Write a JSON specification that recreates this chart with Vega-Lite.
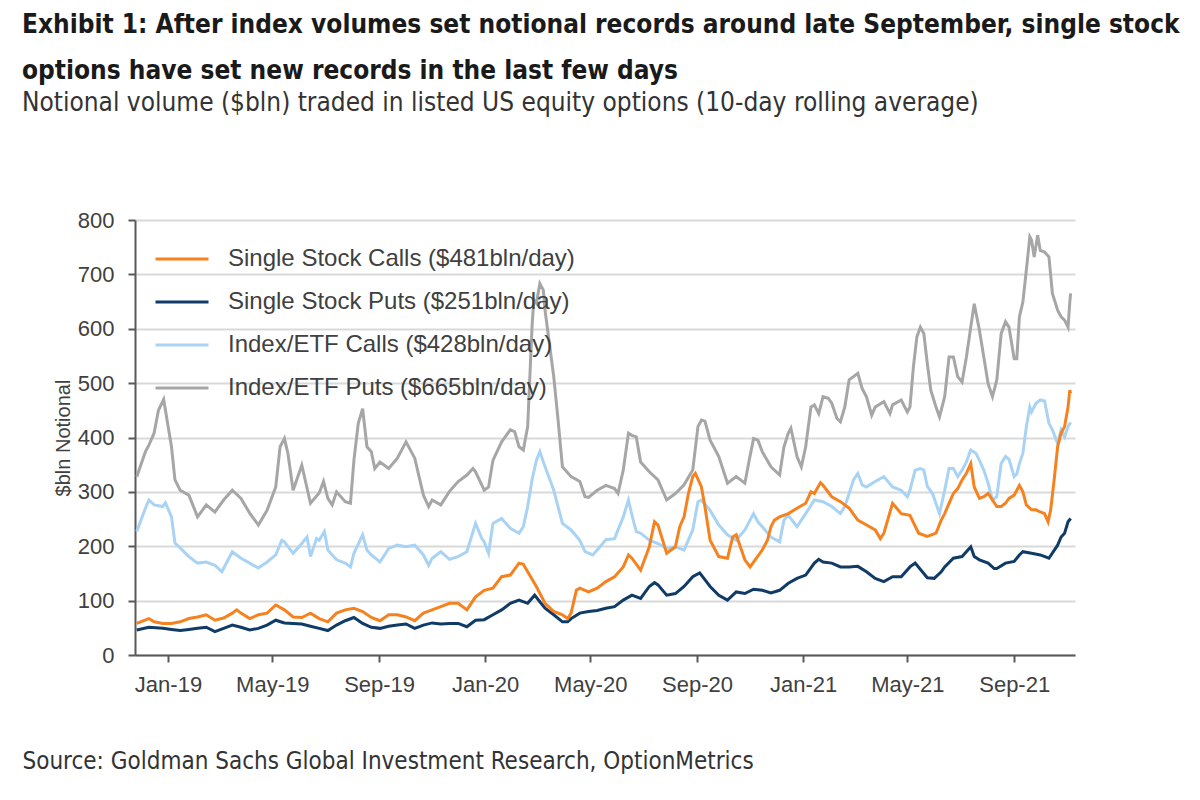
{
  "$schema": "https://vega.github.io/schema/vega-lite/v6.json",
  "width": 940,
  "height": 435,
  "autosize": {"type": "none"},
  "padding": {"left": 135, "top": 220, "right": 125, "bottom": 145},
  "background": "white",
  "config": {"view": {"stroke": null}},
  "title": {
    "text": ["Exhibit 1: After index volumes set notional records around late September, single stock", "options have set new records in the last few days"],
    "subtitle": "Notional volume ($bln) traded in listed US equity options (10-day rolling average)",
    "anchor": "start",
    "frame": "group",
    "dx": -113,
    "offset": 93,
    "font": "DejaVu Sans Condensed, Roboto Condensed, Liberation Sans Narrow, Roboto",
    "fontSize": 26,
    "fontWeight": "bold",
    "color": "#1a1a1a",
    "lineHeight": 46,
    "subtitleFont": "DejaVu Sans Condensed, Roboto Condensed, Liberation Sans Narrow, Roboto",
    "subtitleFontSize": 26,
    "subtitleColor": "#333333",
    "subtitlePadding": 6
  },
  "data": {"values": [
    {"d":"2018-11-26","k":"IEP","v":328},{"d":"2018-12-06","k":"IEP","v":374},{"d":"2018-12-10","k":"IEP","v":386},{"d":"2018-12-16","k":"IEP","v":408},{"d":"2018-12-21","k":"IEP","v":450},{"d":"2018-12-27","k":"IEP","v":470},{"d":"2019-01-05","k":"IEP","v":383},{"d":"2019-01-09","k":"IEP","v":322},{"d":"2019-01-15","k":"IEP","v":303},{"d":"2019-01-25","k":"IEP","v":294},{"d":"2019-02-04","k":"IEP","v":254},{"d":"2019-02-14","k":"IEP","v":276},{"d":"2019-02-24","k":"IEP","v":263},{"d":"2019-03-06","k":"IEP","v":285},{"d":"2019-03-16","k":"IEP","v":303},{"d":"2019-03-26","k":"IEP","v":288},{"d":"2019-04-05","k":"IEP","v":261},{"d":"2019-04-15","k":"IEP","v":239},{"d":"2019-04-25","k":"IEP","v":266},{"d":"2019-05-05","k":"IEP","v":309},{"d":"2019-05-10","k":"IEP","v":383},{"d":"2019-05-15","k":"IEP","v":398},{"d":"2019-05-19","k":"IEP","v":371},{"d":"2019-05-25","k":"IEP","v":303},{"d":"2019-06-04","k":"IEP","v":349},{"d":"2019-06-14","k":"IEP","v":279},{"d":"2019-06-24","k":"IEP","v":298},{"d":"2019-06-29","k":"IEP","v":319},{"d":"2019-07-04","k":"IEP","v":288},{"d":"2019-07-09","k":"IEP","v":276},{"d":"2019-07-14","k":"IEP","v":300},{"d":"2019-07-24","k":"IEP","v":282},{"d":"2019-07-30","k":"IEP","v":279},{"d":"2019-08-03","k":"IEP","v":358},{"d":"2019-08-08","k":"IEP","v":426},{"d":"2019-08-13","k":"IEP","v":453},{"d":"2019-08-18","k":"IEP","v":383},{"d":"2019-08-23","k":"IEP","v":374},{"d":"2019-08-27","k":"IEP","v":343},{"d":"2019-09-02","k":"IEP","v":355},{"d":"2019-09-12","k":"IEP","v":343},{"d":"2019-09-22","k":"IEP","v":362},{"d":"2019-10-02","k":"IEP","v":392},{"d":"2019-10-12","k":"IEP","v":362},{"d":"2019-10-22","k":"IEP","v":294},{"d":"2019-10-28","k":"IEP","v":273},{"d":"2019-11-01","k":"IEP","v":285},{"d":"2019-11-11","k":"IEP","v":276},{"d":"2019-11-21","k":"IEP","v":301},{"d":"2019-12-01","k":"IEP","v":319},{"d":"2019-12-11","k":"IEP","v":331},{"d":"2019-12-18","k":"IEP","v":343},{"d":"2019-12-21","k":"IEP","v":337},{"d":"2019-12-31","k":"IEP","v":303},{"d":"2020-01-05","k":"IEP","v":309},{"d":"2020-01-10","k":"IEP","v":358},{"d":"2020-01-20","k":"IEP","v":392},{"d":"2020-01-30","k":"IEP","v":414},{"d":"2020-02-04","k":"IEP","v":411},{"d":"2020-02-09","k":"IEP","v":383},{"d":"2020-02-14","k":"IEP","v":377},{"d":"2020-02-19","k":"IEP","v":420},{"d":"2020-02-24","k":"IEP","v":603},{"d":"2020-02-26","k":"IEP","v":653},{"d":"2020-02-29","k":"IEP","v":647},{"d":"2020-03-04","k":"IEP","v":683},{"d":"2020-03-08","k":"IEP","v":671},{"d":"2020-03-10","k":"IEP","v":634},{"d":"2020-03-17","k":"IEP","v":548},{"d":"2020-03-20","k":"IEP","v":512},{"d":"2020-03-25","k":"IEP","v":432},{"d":"2020-03-30","k":"IEP","v":346},{"d":"2020-04-09","k":"IEP","v":328},{"d":"2020-04-19","k":"IEP","v":319},{"d":"2020-04-25","k":"IEP","v":291},{"d":"2020-04-29","k":"IEP","v":290},{"d":"2020-05-09","k":"IEP","v":303},{"d":"2020-05-19","k":"IEP","v":312},{"d":"2020-05-29","k":"IEP","v":306},{"d":"2020-06-02","k":"IEP","v":297},{"d":"2020-06-08","k":"IEP","v":340},{"d":"2020-06-14","k":"IEP","v":408},{"d":"2020-06-18","k":"IEP","v":404},{"d":"2020-06-23","k":"IEP","v":401},{"d":"2020-06-28","k":"IEP","v":355},{"d":"2020-07-08","k":"IEP","v":337},{"d":"2020-07-18","k":"IEP","v":322},{"d":"2020-07-28","k":"IEP","v":285},{"d":"2020-08-07","k":"IEP","v":297},{"d":"2020-08-17","k":"IEP","v":313},{"d":"2020-08-27","k":"IEP","v":340},{"d":"2020-09-02","k":"IEP","v":420},{"d":"2020-09-06","k":"IEP","v":432},{"d":"2020-09-10","k":"IEP","v":430},{"d":"2020-09-16","k":"IEP","v":395},{"d":"2020-09-26","k":"IEP","v":365},{"d":"2020-10-06","k":"IEP","v":316},{"d":"2020-10-16","k":"IEP","v":328},{"d":"2020-10-26","k":"IEP","v":316},{"d":"2020-10-31","k":"IEP","v":358},{"d":"2020-11-05","k":"IEP","v":398},{"d":"2020-11-10","k":"IEP","v":395},{"d":"2020-11-15","k":"IEP","v":374},{"d":"2020-11-25","k":"IEP","v":346},{"d":"2020-12-05","k":"IEP","v":331},{"d":"2020-12-10","k":"IEP","v":383},{"d":"2020-12-15","k":"IEP","v":408},{"d":"2020-12-18","k":"IEP","v":417},{"d":"2020-12-25","k":"IEP","v":365},{"d":"2020-12-30","k":"IEP","v":346},{"d":"2021-01-04","k":"IEP","v":383},{"d":"2021-01-10","k":"IEP","v":456},{"d":"2021-01-14","k":"IEP","v":460},{"d":"2021-01-19","k":"IEP","v":444},{"d":"2021-01-24","k":"IEP","v":475},{"d":"2021-01-30","k":"IEP","v":472},{"d":"2021-02-03","k":"IEP","v":463},{"d":"2021-02-09","k":"IEP","v":435},{"d":"2021-02-13","k":"IEP","v":429},{"d":"2021-02-18","k":"IEP","v":456},{"d":"2021-02-23","k":"IEP","v":506},{"d":"2021-02-28","k":"IEP","v":512},{"d":"2021-03-05","k":"IEP","v":518},{"d":"2021-03-10","k":"IEP","v":490},{"d":"2021-03-15","k":"IEP","v":475},{"d":"2021-03-21","k":"IEP","v":441},{"d":"2021-03-25","k":"IEP","v":456},{"d":"2021-04-04","k":"IEP","v":466},{"d":"2021-04-11","k":"IEP","v":444},{"d":"2021-04-14","k":"IEP","v":460},{"d":"2021-04-24","k":"IEP","v":469},{"d":"2021-05-01","k":"IEP","v":447},{"d":"2021-05-04","k":"IEP","v":456},{"d":"2021-05-08","k":"IEP","v":530},{"d":"2021-05-12","k":"IEP","v":585},{"d":"2021-05-16","k":"IEP","v":603},{"d":"2021-05-20","k":"IEP","v":591},{"d":"2021-05-24","k":"IEP","v":536},{"d":"2021-05-28","k":"IEP","v":487},{"d":"2021-06-03","k":"IEP","v":456},{"d":"2021-06-07","k":"IEP","v":438},{"d":"2021-06-13","k":"IEP","v":475},{"d":"2021-06-18","k":"IEP","v":548},{"d":"2021-06-23","k":"IEP","v":548},{"d":"2021-06-28","k":"IEP","v":512},{"d":"2021-07-03","k":"IEP","v":502},{"d":"2021-07-08","k":"IEP","v":548},{"d":"2021-07-13","k":"IEP","v":603},{"d":"2021-07-17","k":"IEP","v":646},{"d":"2021-07-23","k":"IEP","v":597},{"d":"2021-07-28","k":"IEP","v":548},{"d":"2021-08-02","k":"IEP","v":499},{"d":"2021-08-07","k":"IEP","v":475},{"d":"2021-08-12","k":"IEP","v":506},{"d":"2021-08-17","k":"IEP","v":591},{"d":"2021-08-22","k":"IEP","v":613},{"d":"2021-08-26","k":"IEP","v":603},{"d":"2021-09-01","k":"IEP","v":545},{"d":"2021-09-04","k":"IEP","v":545},{"d":"2021-09-07","k":"IEP","v":622},{"d":"2021-09-11","k":"IEP","v":649},{"d":"2021-09-15","k":"IEP","v":708},{"d":"2021-09-19","k":"IEP","v":769},{"d":"2021-09-21","k":"IEP","v":763},{"d":"2021-09-24","k":"IEP","v":732},{"d":"2021-09-28","k":"IEP","v":772},{"d":"2021-10-01","k":"IEP","v":744},{"d":"2021-10-06","k":"IEP","v":741},{"d":"2021-10-11","k":"IEP","v":732},{"d":"2021-10-15","k":"IEP","v":665},{"d":"2021-10-21","k":"IEP","v":634},{"d":"2021-10-25","k":"IEP","v":622},{"d":"2021-10-29","k":"IEP","v":616},{"d":"2021-11-02","k":"IEP","v":603},{"d":"2021-11-04","k":"IEP","v":649},{"d":"2021-11-05","k":"IEP","v":665},

    {"d":"2018-11-26","k":"IEC","v":227},{"d":"2018-12-06","k":"IEC","v":270},{"d":"2018-12-10","k":"IEC","v":285},{"d":"2018-12-16","k":"IEC","v":276},{"d":"2018-12-26","k":"IEC","v":273},{"d":"2018-12-29","k":"IEC","v":280},{"d":"2019-01-05","k":"IEC","v":254},{"d":"2019-01-09","k":"IEC","v":206},{"d":"2019-01-15","k":"IEC","v":197},{"d":"2019-01-25","k":"IEC","v":181},{"d":"2019-02-04","k":"IEC","v":169},{"d":"2019-02-14","k":"IEC","v":171},{"d":"2019-02-24","k":"IEC","v":165},{"d":"2019-03-04","k":"IEC","v":153},{"d":"2019-03-16","k":"IEC","v":190},{"d":"2019-03-26","k":"IEC","v":178},{"d":"2019-04-05","k":"IEC","v":169},{"d":"2019-04-15","k":"IEC","v":160},{"d":"2019-04-25","k":"IEC","v":171},{"d":"2019-05-05","k":"IEC","v":184},{"d":"2019-05-12","k":"IEC","v":211},{"d":"2019-05-15","k":"IEC","v":208},{"d":"2019-05-25","k":"IEC","v":187},{"d":"2019-06-04","k":"IEC","v":205},{"d":"2019-06-10","k":"IEC","v":217},{"d":"2019-06-14","k":"IEC","v":181},{"d":"2019-06-21","k":"IEC","v":214},{"d":"2019-06-24","k":"IEC","v":211},{"d":"2019-06-30","k":"IEC","v":227},{"d":"2019-07-04","k":"IEC","v":193},{"d":"2019-07-14","k":"IEC","v":175},{"d":"2019-07-24","k":"IEC","v":169},{"d":"2019-07-30","k":"IEC","v":162},{"d":"2019-08-03","k":"IEC","v":187},{"d":"2019-08-13","k":"IEC","v":221},{"d":"2019-08-18","k":"IEC","v":193},{"d":"2019-08-23","k":"IEC","v":184},{"d":"2019-09-02","k":"IEC","v":171},{"d":"2019-09-12","k":"IEC","v":196},{"d":"2019-09-22","k":"IEC","v":202},{"d":"2019-10-02","k":"IEC","v":199},{"d":"2019-10-12","k":"IEC","v":202},{"d":"2019-10-22","k":"IEC","v":184},{"d":"2019-10-28","k":"IEC","v":165},{"d":"2019-11-01","k":"IEC","v":178},{"d":"2019-11-11","k":"IEC","v":190},{"d":"2019-11-21","k":"IEC","v":176},{"d":"2019-12-01","k":"IEC","v":181},{"d":"2019-12-11","k":"IEC","v":190},{"d":"2019-12-21","k":"IEC","v":242},{"d":"2019-12-28","k":"IEC","v":215},{"d":"2019-12-31","k":"IEC","v":208},{"d":"2020-01-05","k":"IEC","v":187},{"d":"2020-01-10","k":"IEC","v":242},{"d":"2020-01-20","k":"IEC","v":251},{"d":"2020-01-30","k":"IEC","v":233},{"d":"2020-02-09","k":"IEC","v":224},{"d":"2020-02-14","k":"IEC","v":236},{"d":"2020-02-19","k":"IEC","v":273},{"d":"2020-02-24","k":"IEC","v":322},{"d":"2020-02-29","k":"IEC","v":358},{"d":"2020-03-04","k":"IEC","v":374},{"d":"2020-03-10","k":"IEC","v":346},{"d":"2020-03-20","k":"IEC","v":303},{"d":"2020-03-30","k":"IEC","v":242},{"d":"2020-04-09","k":"IEC","v":230},{"d":"2020-04-19","k":"IEC","v":211},{"d":"2020-04-25","k":"IEC","v":190},{"d":"2020-05-04","k":"IEC","v":184},{"d":"2020-05-09","k":"IEC","v":193},{"d":"2020-05-19","k":"IEC","v":212},{"d":"2020-05-29","k":"IEC","v":214},{"d":"2020-06-08","k":"IEC","v":254},{"d":"2020-06-14","k":"IEC","v":285},{"d":"2020-06-18","k":"IEC","v":257},{"d":"2020-06-23","k":"IEC","v":227},{"d":"2020-06-28","k":"IEC","v":224},{"d":"2020-07-08","k":"IEC","v":211},{"d":"2020-07-18","k":"IEC","v":205},{"d":"2020-07-28","k":"IEC","v":196},{"d":"2020-08-07","k":"IEC","v":199},{"d":"2020-08-17","k":"IEC","v":193},{"d":"2020-08-27","k":"IEC","v":230},{"d":"2020-09-02","k":"IEC","v":282},{"d":"2020-09-06","k":"IEC","v":285},{"d":"2020-09-16","k":"IEC","v":266},{"d":"2020-09-26","k":"IEC","v":239},{"d":"2020-10-06","k":"IEC","v":221},{"d":"2020-10-16","k":"IEC","v":211},{"d":"2020-10-26","k":"IEC","v":230},{"d":"2020-11-05","k":"IEC","v":260},{"d":"2020-11-10","k":"IEC","v":245},{"d":"2020-11-15","k":"IEC","v":236},{"d":"2020-11-25","k":"IEC","v":217},{"d":"2020-12-05","k":"IEC","v":208},{"d":"2020-12-10","k":"IEC","v":248},{"d":"2020-12-15","k":"IEC","v":257},{"d":"2020-12-25","k":"IEC","v":236},{"d":"2020-12-30","k":"IEC","v":248},{"d":"2021-01-04","k":"IEC","v":260},{"d":"2021-01-14","k":"IEC","v":285},{"d":"2021-01-24","k":"IEC","v":282},{"d":"2021-02-03","k":"IEC","v":273},{"d":"2021-02-13","k":"IEC","v":260},{"d":"2021-02-18","k":"IEC","v":273},{"d":"2021-02-23","k":"IEC","v":297},{"d":"2021-02-28","k":"IEC","v":322},{"d":"2021-03-05","k":"IEC","v":334},{"d":"2021-03-10","k":"IEC","v":313},{"d":"2021-03-15","k":"IEC","v":309},{"d":"2021-03-25","k":"IEC","v":319},{"d":"2021-04-04","k":"IEC","v":328},{"d":"2021-04-14","k":"IEC","v":309},{"d":"2021-04-24","k":"IEC","v":303},{"d":"2021-05-01","k":"IEC","v":291},{"d":"2021-05-04","k":"IEC","v":303},{"d":"2021-05-10","k":"IEC","v":340},{"d":"2021-05-16","k":"IEC","v":343},{"d":"2021-05-20","k":"IEC","v":340},{"d":"2021-05-24","k":"IEC","v":310},{"d":"2021-05-30","k":"IEC","v":297},{"d":"2021-06-07","k":"IEC","v":260},{"d":"2021-06-13","k":"IEC","v":303},{"d":"2021-06-18","k":"IEC","v":343},{"d":"2021-06-23","k":"IEC","v":343},{"d":"2021-06-28","k":"IEC","v":328},{"d":"2021-07-03","k":"IEC","v":340},{"d":"2021-07-08","k":"IEC","v":355},{"d":"2021-07-13","k":"IEC","v":377},{"d":"2021-07-19","k":"IEC","v":371},{"d":"2021-07-23","k":"IEC","v":358},{"d":"2021-07-28","k":"IEC","v":340},{"d":"2021-08-02","k":"IEC","v":316},{"d":"2021-08-07","k":"IEC","v":285},{"d":"2021-08-12","k":"IEC","v":291},{"d":"2021-08-17","k":"IEC","v":352},{"d":"2021-08-22","k":"IEC","v":365},{"d":"2021-08-26","k":"IEC","v":360},{"d":"2021-09-01","k":"IEC","v":328},{"d":"2021-09-04","k":"IEC","v":333},{"d":"2021-09-07","k":"IEC","v":352},{"d":"2021-09-11","k":"IEC","v":371},{"d":"2021-09-15","k":"IEC","v":420},{"d":"2021-09-19","k":"IEC","v":456},{"d":"2021-09-21","k":"IEC","v":447},{"d":"2021-09-26","k":"IEC","v":463},{"d":"2021-10-01","k":"IEC","v":469},{"d":"2021-10-06","k":"IEC","v":467},{"d":"2021-10-11","k":"IEC","v":426},{"d":"2021-10-15","k":"IEC","v":414},{"d":"2021-10-21","k":"IEC","v":389},{"d":"2021-10-25","k":"IEC","v":414},{"d":"2021-10-29","k":"IEC","v":401},{"d":"2021-11-02","k":"IEC","v":420},{"d":"2021-11-05","k":"IEC","v":428},

    {"d":"2018-11-26","k":"SSP","v":46},{"d":"2018-12-10","k":"SSP","v":51},{"d":"2018-12-26","k":"SSP","v":49},{"d":"2019-01-05","k":"SSP","v":47},{"d":"2019-01-15","k":"SSP","v":45},{"d":"2019-01-25","k":"SSP","v":47},{"d":"2019-02-04","k":"SSP","v":49},{"d":"2019-02-14","k":"SSP","v":51},{"d":"2019-02-24","k":"SSP","v":43},{"d":"2019-03-06","k":"SSP","v":49},{"d":"2019-03-16","k":"SSP","v":55},{"d":"2019-03-26","k":"SSP","v":51},{"d":"2019-04-05","k":"SSP","v":46},{"d":"2019-04-15","k":"SSP","v":49},{"d":"2019-04-25","k":"SSP","v":55},{"d":"2019-05-05","k":"SSP","v":64},{"d":"2019-05-15","k":"SSP","v":59},{"d":"2019-05-25","k":"SSP","v":58},{"d":"2019-06-04","k":"SSP","v":57},{"d":"2019-06-14","k":"SSP","v":53},{"d":"2019-06-24","k":"SSP","v":49},{"d":"2019-07-04","k":"SSP","v":45},{"d":"2019-07-14","k":"SSP","v":55},{"d":"2019-07-24","k":"SSP","v":63},{"d":"2019-08-03","k":"SSP","v":69},{"d":"2019-08-13","k":"SSP","v":58},{"d":"2019-08-23","k":"SSP","v":51},{"d":"2019-09-02","k":"SSP","v":49},{"d":"2019-09-12","k":"SSP","v":53},{"d":"2019-09-22","k":"SSP","v":55},{"d":"2019-10-02","k":"SSP","v":57},{"d":"2019-10-12","k":"SSP","v":49},{"d":"2019-10-22","k":"SSP","v":55},{"d":"2019-11-01","k":"SSP","v":59},{"d":"2019-11-11","k":"SSP","v":57},{"d":"2019-11-21","k":"SSP","v":58},{"d":"2019-12-01","k":"SSP","v":58},{"d":"2019-12-11","k":"SSP","v":52},{"d":"2019-12-21","k":"SSP","v":64},{"d":"2019-12-31","k":"SSP","v":65},{"d":"2020-01-10","k":"SSP","v":74},{"d":"2020-01-20","k":"SSP","v":83},{"d":"2020-01-30","k":"SSP","v":95},{"d":"2020-02-09","k":"SSP","v":101},{"d":"2020-02-19","k":"SSP","v":95},{"d":"2020-02-27","k":"SSP","v":110},{"d":"2020-03-04","k":"SSP","v":98},{"d":"2020-03-10","k":"SSP","v":86},{"d":"2020-03-20","k":"SSP","v":74},{"d":"2020-03-30","k":"SSP","v":61},{"d":"2020-04-05","k":"SSP","v":61},{"d":"2020-04-09","k":"SSP","v":67},{"d":"2020-04-19","k":"SSP","v":77},{"d":"2020-04-29","k":"SSP","v":80},{"d":"2020-05-09","k":"SSP","v":82},{"d":"2020-05-19","k":"SSP","v":86},{"d":"2020-05-29","k":"SSP","v":89},{"d":"2020-06-08","k":"SSP","v":101},{"d":"2020-06-18","k":"SSP","v":110},{"d":"2020-06-28","k":"SSP","v":104},{"d":"2020-07-08","k":"SSP","v":126},{"d":"2020-07-14","k":"SSP","v":133},{"d":"2020-07-18","k":"SSP","v":129},{"d":"2020-07-28","k":"SSP","v":110},{"d":"2020-08-07","k":"SSP","v":113},{"d":"2020-08-17","k":"SSP","v":126},{"d":"2020-08-27","k":"SSP","v":144},{"d":"2020-09-04","k":"SSP","v":151},{"d":"2020-09-16","k":"SSP","v":126},{"d":"2020-09-26","k":"SSP","v":110},{"d":"2020-10-06","k":"SSP","v":101},{"d":"2020-10-16","k":"SSP","v":116},{"d":"2020-10-26","k":"SSP","v":113},{"d":"2020-11-05","k":"SSP","v":121},{"d":"2020-11-15","k":"SSP","v":119},{"d":"2020-11-25","k":"SSP","v":114},{"d":"2020-12-05","k":"SSP","v":119},{"d":"2020-12-15","k":"SSP","v":132},{"d":"2020-12-25","k":"SSP","v":141},{"d":"2021-01-04","k":"SSP","v":147},{"d":"2021-01-14","k":"SSP","v":169},{"d":"2021-01-19","k":"SSP","v":176},{"d":"2021-01-24","k":"SSP","v":171},{"d":"2021-02-03","k":"SSP","v":169},{"d":"2021-02-13","k":"SSP","v":162},{"d":"2021-02-23","k":"SSP","v":162},{"d":"2021-03-05","k":"SSP","v":163},{"d":"2021-03-15","k":"SSP","v":153},{"d":"2021-03-25","k":"SSP","v":141},{"d":"2021-04-04","k":"SSP","v":135},{"d":"2021-04-14","k":"SSP","v":144},{"d":"2021-04-24","k":"SSP","v":144},{"d":"2021-05-04","k":"SSP","v":162},{"d":"2021-05-10","k":"SSP","v":169},{"d":"2021-05-24","k":"SSP","v":142},{"d":"2021-06-01","k":"SSP","v":141},{"d":"2021-06-09","k":"SSP","v":153},{"d":"2021-06-13","k":"SSP","v":162},{"d":"2021-06-23","k":"SSP","v":178},{"d":"2021-07-03","k":"SSP","v":181},{"d":"2021-07-13","k":"SSP","v":199},{"d":"2021-07-17","k":"SSP","v":181},{"d":"2021-07-23","k":"SSP","v":175},{"d":"2021-08-02","k":"SSP","v":169},{"d":"2021-08-09","k":"SSP","v":159},{"d":"2021-08-12","k":"SSP","v":159},{"d":"2021-08-22","k":"SSP","v":169},{"d":"2021-09-01","k":"SSP","v":172},{"d":"2021-09-07","k":"SSP","v":184},{"d":"2021-09-11","k":"SSP","v":190},{"d":"2021-09-21","k":"SSP","v":187},{"d":"2021-10-01","k":"SSP","v":184},{"d":"2021-10-11","k":"SSP","v":178},{"d":"2021-10-21","k":"SSP","v":202},{"d":"2021-10-25","k":"SSP","v":217},{"d":"2021-10-29","k":"SSP","v":224},{"d":"2021-11-02","k":"SSP","v":245},{"d":"2021-11-05","k":"SSP","v":251},

    {"d":"2018-11-26","k":"SSC","v":58},{"d":"2018-12-10","k":"SSC","v":67},{"d":"2018-12-16","k":"SSC","v":61},{"d":"2018-12-26","k":"SSC","v":58},{"d":"2019-01-05","k":"SSC","v":58},{"d":"2019-01-15","k":"SSC","v":61},{"d":"2019-01-25","k":"SSC","v":67},{"d":"2019-02-04","k":"SSC","v":70},{"d":"2019-02-14","k":"SSC","v":74},{"d":"2019-02-24","k":"SSC","v":64},{"d":"2019-03-06","k":"SSC","v":68},{"d":"2019-03-16","k":"SSC","v":77},{"d":"2019-03-21","k":"SSC","v":83},{"d":"2019-03-26","k":"SSC","v":77},{"d":"2019-04-05","k":"SSC","v":67},{"d":"2019-04-15","k":"SSC","v":74},{"d":"2019-04-25","k":"SSC","v":77},{"d":"2019-05-05","k":"SSC","v":92},{"d":"2019-05-15","k":"SSC","v":83},{"d":"2019-05-25","k":"SSC","v":70},{"d":"2019-06-04","k":"SSC","v":69},{"d":"2019-06-14","k":"SSC","v":77},{"d":"2019-06-24","k":"SSC","v":67},{"d":"2019-07-04","k":"SSC","v":61},{"d":"2019-07-14","k":"SSC","v":77},{"d":"2019-07-24","k":"SSC","v":83},{"d":"2019-08-03","k":"SSC","v":86},{"d":"2019-08-13","k":"SSC","v":80},{"d":"2019-08-23","k":"SSC","v":69},{"d":"2019-09-02","k":"SSC","v":63},{"d":"2019-09-12","k":"SSC","v":74},{"d":"2019-09-22","k":"SSC","v":74},{"d":"2019-10-02","k":"SSC","v":70},{"d":"2019-10-12","k":"SSC","v":63},{"d":"2019-10-22","k":"SSC","v":77},{"d":"2019-11-01","k":"SSC","v":83},{"d":"2019-11-11","k":"SSC","v":89},{"d":"2019-11-21","k":"SSC","v":95},{"d":"2019-12-01","k":"SSC","v":95},{"d":"2019-12-11","k":"SSC","v":83},{"d":"2019-12-21","k":"SSC","v":107},{"d":"2019-12-31","k":"SSC","v":119},{"d":"2020-01-10","k":"SSC","v":123},{"d":"2020-01-20","k":"SSC","v":144},{"d":"2020-01-30","k":"SSC","v":147},{"d":"2020-02-09","k":"SSC","v":169},{"d":"2020-02-14","k":"SSC","v":167},{"d":"2020-02-19","k":"SSC","v":153},{"d":"2020-02-29","k":"SSC","v":126},{"d":"2020-03-10","k":"SSC","v":95},{"d":"2020-03-20","k":"SSC","v":80},{"d":"2020-03-30","k":"SSC","v":74},{"d":"2020-04-05","k":"SSC","v":67},{"d":"2020-04-09","k":"SSC","v":77},{"d":"2020-04-15","k":"SSC","v":119},{"d":"2020-04-19","k":"SSC","v":123},{"d":"2020-04-29","k":"SSC","v":116},{"d":"2020-05-09","k":"SSC","v":123},{"d":"2020-05-19","k":"SSC","v":135},{"d":"2020-05-29","k":"SSC","v":144},{"d":"2020-06-08","k":"SSC","v":162},{"d":"2020-06-14","k":"SSC","v":184},{"d":"2020-06-18","k":"SSC","v":178},{"d":"2020-06-28","k":"SSC","v":156},{"d":"2020-07-08","k":"SSC","v":199},{"d":"2020-07-14","k":"SSC","v":245},{"d":"2020-07-18","k":"SSC","v":239},{"d":"2020-07-28","k":"SSC","v":187},{"d":"2020-08-07","k":"SSC","v":199},{"d":"2020-08-12","k":"SSC","v":236},{"d":"2020-08-17","k":"SSC","v":254},{"d":"2020-08-22","k":"SSC","v":297},{"d":"2020-08-27","k":"SSC","v":328},{"d":"2020-08-30","k":"SSC","v":334},{"d":"2020-09-06","k":"SSC","v":309},{"d":"2020-09-10","k":"SSC","v":273},{"d":"2020-09-16","k":"SSC","v":211},{"d":"2020-09-26","k":"SSC","v":181},{"d":"2020-10-06","k":"SSC","v":178},{"d":"2020-10-12","k":"SSC","v":217},{"d":"2020-10-16","k":"SSC","v":221},{"d":"2020-10-26","k":"SSC","v":175},{"d":"2020-11-01","k":"SSC","v":162},{"d":"2020-11-05","k":"SSC","v":171},{"d":"2020-11-15","k":"SSC","v":193},{"d":"2020-11-21","k":"SSC","v":211},{"d":"2020-11-25","k":"SSC","v":236},{"d":"2020-11-29","k":"SSC","v":248},{"d":"2020-12-05","k":"SSC","v":254},{"d":"2020-12-15","k":"SSC","v":260},{"d":"2020-12-25","k":"SSC","v":270},{"d":"2021-01-04","k":"SSC","v":279},{"d":"2021-01-10","k":"SSC","v":300},{"d":"2021-01-14","k":"SSC","v":297},{"d":"2021-01-21","k":"SSC","v":317},{"d":"2021-01-24","k":"SSC","v":312},{"d":"2021-02-03","k":"SSC","v":291},{"d":"2021-02-13","k":"SSC","v":282},{"d":"2021-02-23","k":"SSC","v":270},{"d":"2021-03-05","k":"SSC","v":248},{"d":"2021-03-15","k":"SSC","v":239},{"d":"2021-03-25","k":"SSC","v":230},{"d":"2021-03-31","k":"SSC","v":214},{"d":"2021-04-04","k":"SSC","v":224},{"d":"2021-04-14","k":"SSC","v":279},{"d":"2021-04-24","k":"SSC","v":260},{"d":"2021-05-04","k":"SSC","v":257},{"d":"2021-05-14","k":"SSC","v":224},{"d":"2021-05-24","k":"SSC","v":218},{"d":"2021-06-03","k":"SSC","v":224},{"d":"2021-06-09","k":"SSC","v":248},{"d":"2021-06-13","k":"SSC","v":260},{"d":"2021-06-18","k":"SSC","v":279},{"d":"2021-06-23","k":"SSC","v":297},{"d":"2021-06-28","k":"SSC","v":306},{"d":"2021-07-03","k":"SSC","v":322},{"d":"2021-07-08","k":"SSC","v":334},{"d":"2021-07-13","k":"SSC","v":352},{"d":"2021-07-17","k":"SSC","v":309},{"d":"2021-07-23","k":"SSC","v":288},{"d":"2021-07-28","k":"SSC","v":291},{"d":"2021-08-02","k":"SSC","v":297},{"d":"2021-08-07","k":"SSC","v":285},{"d":"2021-08-12","k":"SSC","v":273},{"d":"2021-08-17","k":"SSC","v":273},{"d":"2021-08-22","k":"SSC","v":279},{"d":"2021-08-26","k":"SSC","v":288},{"d":"2021-09-01","k":"SSC","v":294},{"d":"2021-09-07","k":"SSC","v":312},{"d":"2021-09-11","k":"SSC","v":300},{"d":"2021-09-15","k":"SSC","v":276},{"d":"2021-09-21","k":"SSC","v":267},{"d":"2021-09-26","k":"SSC","v":267},{"d":"2021-10-01","k":"SSC","v":263},{"d":"2021-10-06","k":"SSC","v":260},{"d":"2021-10-10","k":"SSC","v":245},{"d":"2021-10-13","k":"SSC","v":267},{"d":"2021-10-17","k":"SSC","v":322},{"d":"2021-10-21","k":"SSC","v":383},{"d":"2021-10-25","k":"SSC","v":408},{"d":"2021-10-29","k":"SSC","v":420},{"d":"2021-11-02","k":"SSC","v":456},{"d":"2021-11-04","k":"SSC","v":487},{"d":"2021-11-05","k":"SSC","v":481}
  ]},
  "mark": {"type": "line", "strokeWidth": 3, "interpolate": "linear"},
  "encoding": {
    "x": {
      "field": "d",
      "type": "temporal",
      "scale": {"domain": [{"year": 2018, "month": 11, "date": 24}, {"year": 2021, "month": 11, "date": 10}]},
      "axis": {
        "values": [
          {"year": 2019, "month": 1, "date": 1}, {"year": 2019, "month": 5, "date": 1}, {"year": 2019, "month": 9, "date": 1},
          {"year": 2020, "month": 1, "date": 1}, {"year": 2020, "month": 5, "date": 1}, {"year": 2020, "month": 9, "date": 1},
          {"year": 2021, "month": 1, "date": 1}, {"year": 2021, "month": 5, "date": 1}, {"year": 2021, "month": 9, "date": 1}
        ],
        "format": "%b-%y",
        "grid": false,
        "labelFont": "Liberation Sans",
        "labelFontSize": 22,
        "labelColor": "#404040",
        "labelPadding": 12,
        "labelFlush": false,
        "labelOverlap": false,
        "tickSize": 7,
        "tickWidth": 2,
        "tickColor": "#595959",
        "domainColor": "#595959",
        "domainWidth": 2,
        "title": "Source: Goldman Sachs Global Investment Research, OptionMetrics",
        "titleFont": "DejaVu Sans Condensed, Roboto Condensed, Liberation Sans Narrow, Roboto",
        "titleFontSize": 24,
        "titleFontWeight": "normal",
        "titleColor": "#333333",
        "titleAlign": "left",
        "titleBaseline": "alphabetic",
        "titleX": -113,
        "titleY": 113
      }
    },
    "y": {
      "field": "v",
      "type": "quantitative",
      "scale": {"domain": [0, 800], "nice": false},
      "axis": {
        "values": [0, 100, 200, 300, 400, 500, 600, 700, 800],
        "grid": true,
        "gridColor": "#d9d9d9",
        "gridWidth": 2,
        "labelFont": "Liberation Sans",
        "labelFontSize": 22,
        "labelColor": "#404040",
        "labelPadding": 14,
        "tickSize": 7,
        "tickWidth": 2,
        "tickColor": "#595959",
        "domainColor": "#595959",
        "domainWidth": 2,
        "title": "$bln Notional",
        "titleFont": "Liberation Sans",
        "titleFontSize": 20,
        "titleFontWeight": "normal",
        "titleColor": "#404040",
        "titlePadding": 4
      }
    },
    "color": {
      "field": "k",
      "type": "nominal",
      "scale": {"domain": ["SSC", "SSP", "IEC", "IEP"], "range": ["#f5821f", "#0f3b66", "#a9d3f4", "#a6a6a6"]},
      "legend": {
        "orient": "none",
        "legendX": 19,
        "legendY": 11,
        "title": null,
        "padding": 0,
        "symbolType": "stroke",
        "symbolSize": 2809,
        "symbolStrokeWidth": 3,
        "labelFont": "Liberation Sans",
        "labelFontSize": 24,
        "labelColor": "#404040",
        "labelOffset": 18,
        "labelLimit": 600,
        "rowPadding": 3,
        "labelExpr": "{'SSC': 'Single Stock Calls ($481bln/day)', 'SSP': 'Single Stock Puts ($251bln/day)', 'IEC': 'Index/ETF Calls ($428bln/day)', 'IEP': 'Index/ETF Puts ($665bln/day)'}[datum.label]"
      }
    }
  }
}
